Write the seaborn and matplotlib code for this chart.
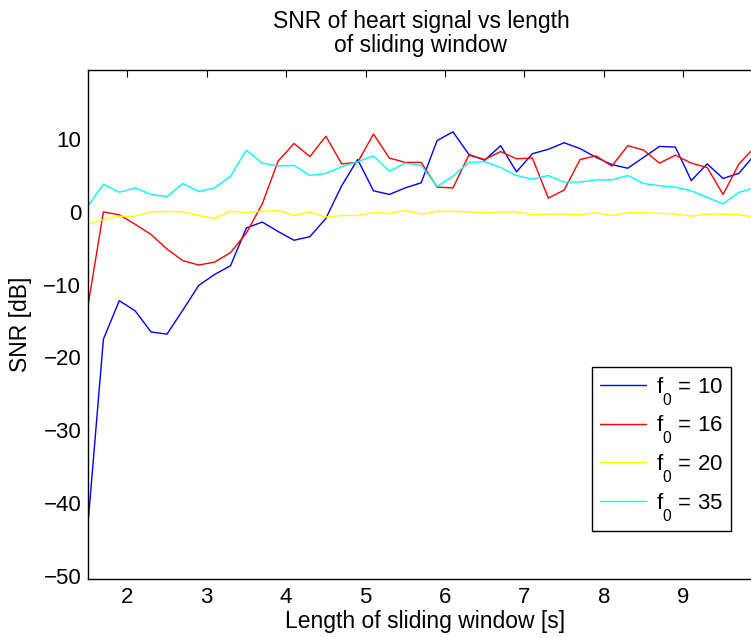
import numpy as np
import pandas as pd
import matplotlib
matplotlib.use("Agg")
import matplotlib.pyplot as plt
import seaborn as sns

# Sliding window lengths [s]
window_len = [round(1.5 + 0.2 * i, 1) for i in range(43)]

snr_f10 = [-43.7, -17.5, -12.2, -13.6, -16.5, -16.8, -13.5, -10.1, -8.6, -7.4,
           -2.2, -1.4, -2.7, -3.9, -3.4, -0.9, 3.6, 7.2, 2.9, 2.4,
           3.3, 4.0, 9.8, 11.0, 7.9, 7.1, 9.1, 5.5, 8.0, 8.6,
           9.5, 8.7, 7.5, 6.5, 6.0, 7.5, 9.0, 8.9, 4.3, 6.6,
           4.6, 5.3, 7.9]
snr_f16 = [-13.3, 0.0, -0.4, -1.7, -3.1, -5.1, -6.7, -7.3, -6.9, -5.6,
           -2.9, 1.1, 7.0, 9.4, 7.6, 10.4, 6.6, 6.8, 10.7, 7.4,
           6.8, 6.8, 3.4, 3.3, 7.8, 7.2, 8.3, 7.3, 7.4, 1.9,
           3.0, 7.2, 7.7, 6.3, 9.1, 8.5, 6.7, 7.8, 6.7, 6.1,
           2.4, 6.6, 8.9]
snr_f20 = [-1.7, -1.1, -0.6, -0.6, 0.0, 0.05, 0.0, -0.5, -0.9, 0.1,
           -0.1, 0.1, 0.2, -0.5, 0.0, -0.7, -0.5, -0.5, -0.1, -0.2,
           0.2, -0.3, 0.1, 0.1, 0.0, -0.1, 0.0, 0.0, -0.4, -0.3,
           -0.3, -0.4, -0.1, -0.5, -0.1, -0.1, -0.2, -0.3, -0.6, -0.3,
           -0.3, -0.4, -0.7]
snr_f35 = [0.7, 3.8, 2.7, 3.3, 2.4, 2.1, 3.9, 2.8, 3.3, 4.9,
           8.5, 6.7, 6.3, 6.4, 5.0, 5.3, 6.2, 6.9, 7.7, 5.6,
           6.7, 6.4, 3.5, 4.9, 6.8, 6.9, 6.1, 5.0, 4.5, 5.0,
           4.1, 4.1, 4.4, 4.4, 5.0, 3.9, 3.6, 3.4, 2.9, 2.0,
           1.1, 2.7, 3.3]

series_labels = [r"f$_0$ = 10", r"f$_0$ = 16", r"f$_0$ = 20", r"f$_0$ = 35"]
series_colors = ["#0000ff", "#ff0000", "#ffff00", "#00ffff"]

y_ticks = [-50, -40, -30, -20, -10, 0, 10]
x_ticks = [2, 3, 4, 5, 6, 7, 8, 9]

frames = []
for lab, vals in zip(series_labels, [snr_f10, snr_f16, snr_f20, snr_f35]):
    frames.append(pd.DataFrame({"len": window_len, "snr": vals, "series": lab}))
df = pd.concat(frames, ignore_index=True)

sns.set_theme(style="white")
plt.rcParams["font.family"] = ["Liberation Sans", "DejaVu Sans"]
plt.rcParams["mathtext.fontset"] = "custom"
plt.rcParams["mathtext.rm"] = "Liberation Sans"
plt.rcParams["mathtext.it"] = "Liberation Sans"
plt.rcParams["mathtext.default"] = "regular"
for key in ["text.color", "axes.labelcolor", "xtick.color", "ytick.color",
            "axes.edgecolor"]:
    plt.rcParams[key] = "black"

# Deeper subscript drop for the legend's f0 labels
try:
    from matplotlib import _mathtext
    _mathtext.FontConstantsBase.sub1 = 1.0
except Exception:
    pass

fig = plt.figure(figsize=(7.51, 6.38), dpi=100)
ax = fig.add_axes([87.5 / 751, 59 / 638, 675.3 / 751, 509 / 638])

sns.lineplot(data=df, x="len", y="snr", hue="series", palette=series_colors,
             linewidth=1.0, ax=ax, legend=True)

ax.set_xlim(1.5, 10.0)
ax.set_ylim(-50.45, 19.5)
ax.set_xticks(x_ticks)
ax.set_yticks(y_ticks)
ax.set_yticklabels([str(v).replace("-", "\u2212") for v in y_ticks])
ax.tick_params(direction="in", length=5, width=0.8, top=True, right=True,
               labelsize=16, colors="black")
ax.tick_params(axis="x", pad=5.5)
ax.tick_params(axis="y", pad=4.5)
for s in ax.spines.values():
    s.set_color("black")
    s.set_linewidth(1.0)

ax.set_xlabel("Length of sliding window [s]", fontsize=16.5, labelpad=2)
ax.set_ylabel("SNR [dB]", fontsize=16.5, labelpad=8)
ax.set_title("SNR of heart signal vs length\nof sliding window",
             fontsize=16.5, pad=13, x=(421 - 87.5) / 675.3, linespacing=1.05)

handles, labels = ax.get_legend_handles_labels()
leg = ax.legend(handles, labels, loc="upper left",
                bbox_to_anchor=(592 / 751, 1 - 367 / 638),
                bbox_transform=fig.transFigure, fontsize=16,
                frameon=True, fancybox=False, framealpha=1,
                edgecolor="black", handlelength=2.1, handletextpad=0.45,
                labelspacing=0.3, borderpad=0.35, borderaxespad=0)
leg.get_frame().set_linewidth(1.0)

fig.savefig("out.png", dpi=100)
